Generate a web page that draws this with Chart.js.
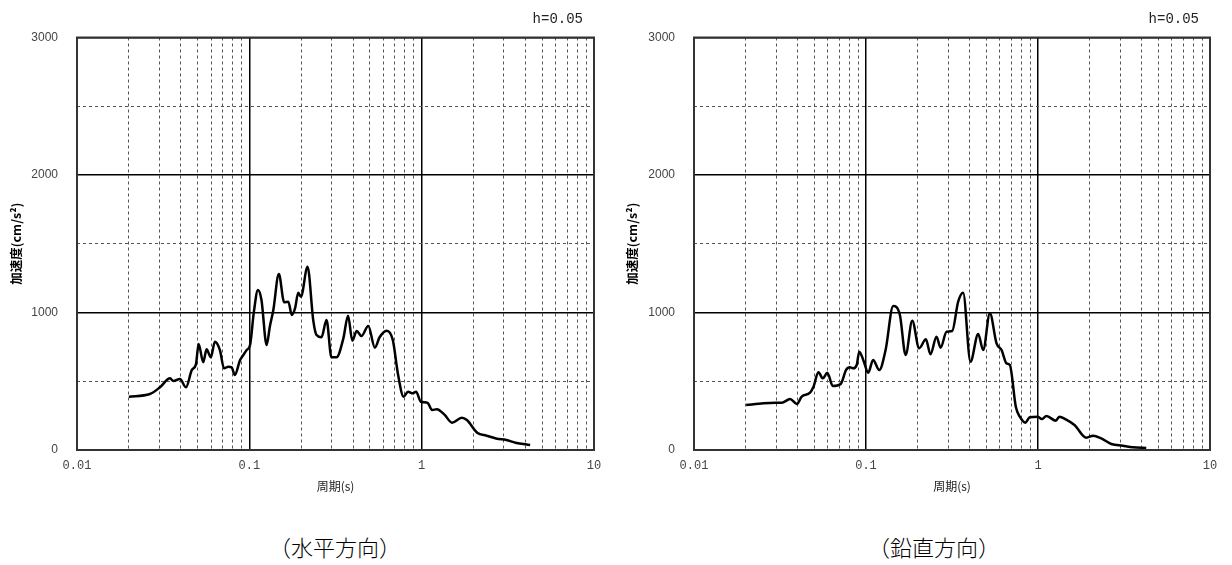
<!DOCTYPE html>
<html>
<head>
<meta charset="utf-8">
<script src="https://cdn.jsdelivr.net/npm/chart.js@4.4.1/dist/chart.umd.min.js"></script>
<style>
  html, body { margin: 0; padding: 0; background: #fff; }
  body { width: 1232px; height: 565px; position: relative; overflow: hidden; }
  canvas { position: absolute; top: 0; }
  .sub { position: absolute; top: 530px; font-family: "Noto Sans CJK JP", sans-serif; font-weight: 300; font-size: 22px; color: #000; white-space: nowrap; transform: translateX(-50%); }
</style>
</head>
<body>
<canvas id="c1" width="616" height="500" style="left:0px"></canvas>
<canvas id="c2" width="616" height="500" style="left:616px"></canvas>
<div class="sub" style="left:335px">（水平方向）</div>
<div class="sub" style="left:934px">（鉛直方向）</div>
<script>
// ---- data ----
const dampingLabel = 'h=0.05';
const xAxisTitle = '周期(s)';
const yAxisTitle = '加速度(cm/s²)';
const subTitles = ['（水平方向）', '（鉛直方向）'];

const xGridValues = [0.01,0.02,0.03,0.04,0.05,0.06,0.07,0.08,0.09,
                     0.1,0.2,0.3,0.4,0.5,0.6,0.7,0.8,0.9,
                     1,2,3,4,5,6,7,8,9,10];
const xTickLabels = {0.01: '0.01', 0.1: '0.1', 1: '1', 10: '10'};
const yGridValues = [0, 500, 1000, 1500, 2000, 2500, 3000];
const yTickLabels = {0: '0', 1000: '1000', 2000: '2000', 3000: '3000'};

// 水平方向
const hPeriod = [0.02, 0.0265, 0.0303, 0.0347, 0.0362, 0.0396, 0.0429, 0.0464, 0.049, 0.0508, 0.054, 0.0565, 0.0598, 0.0631, 0.0675, 0.0713, 0.0755, 0.079, 0.0823, 0.0884, 0.0923, 0.0965, 0.101, 0.1063, 0.1122, 0.1176, 0.126, 0.1315, 0.1378, 0.1483, 0.1593, 0.1684, 0.1763, 0.1841, 0.1924, 0.1992, 0.2177, 0.2348, 0.2454, 0.2622, 0.2804, 0.2997, 0.3204, 0.3513, 0.3741, 0.3958, 0.4197, 0.4471, 0.49, 0.535, 0.57, 0.6267, 0.68, 0.7302, 0.7858, 0.8335, 0.8887, 0.9282, 0.9883, 1.08, 1.149, 1.225, 1.36, 1.5, 1.71, 1.83, 2.1, 2.38, 2.73, 3.1, 3.5, 4.26];
const hAccel  = [388, 407, 456, 521, 502, 516, 456, 582, 623, 771, 638, 732, 674, 788, 727, 594, 606, 601, 545, 655, 691, 727, 764, 1006, 1164, 1091, 764, 897, 1018, 1280, 1074, 1079, 982, 1030, 1144, 1115, 1333, 945, 836, 820, 945, 674, 674, 812, 977, 795, 865, 829, 902, 744, 820, 868, 800, 545, 388, 424, 412, 424, 351, 344, 291, 296, 255, 199, 235, 218, 126, 104, 82, 73, 53, 36];

// 鉛直方向
const vPeriod = [0.0201, 0.0254, 0.0296, 0.0324, 0.0362, 0.0396, 0.0423, 0.0473, 0.0495, 0.0529, 0.0561, 0.0596, 0.0641, 0.0713, 0.0766, 0.0807, 0.0844, 0.0883, 0.0914, 0.0964, 0.103, 0.110, 0.1194, 0.13, 0.1439, 0.1574, 0.17, 0.1857, 0.2038, 0.2229, 0.237, 0.257, 0.2714, 0.294, 0.317, 0.3435, 0.367, 0.405, 0.449, 0.48, 0.525, 0.574, 0.614, 0.656, 0.686, 0.743, 0.784, 0.845, 0.895, 1.0, 1.05, 1.12, 1.27, 1.33, 1.45, 1.63, 1.91, 2.09, 2.33, 2.67, 3.11, 3.56, 4.26];
const vAccel  = [327, 340, 344, 344, 371, 335, 388, 417, 460, 565, 521, 562, 465, 480, 582, 601, 594, 618, 715, 655, 562, 655, 582, 727, 1047, 982, 691, 940, 740, 805, 696, 824, 744, 860, 865, 1079, 1144, 642, 844, 727, 994, 776, 727, 630, 618, 315, 242, 199, 238, 242, 225, 247, 213, 242, 223, 182, 89, 104, 85, 44, 31, 20, 15];

// ---- chart building ----
function isMajorX(v) { const l = Math.log10(v); return Math.abs(l - Math.round(l)) < 1e-6; }
function isMajorY(v) { return Math.abs(v % 1000) < 1e-6; }
function labelOf(map, v) {
  for (const k in map) { if (Math.abs(parseFloat(k) - v) < 1e-9 * Math.max(1, v)) return map[k]; }
  return '';
}

const framePlugin = {
  id: 'frame',
  afterDatasetsDraw(chart) {
    const {ctx, chartArea: a} = chart;
    ctx.save();
    ctx.strokeStyle = '#333';
    ctx.lineWidth = 2;
    ctx.strokeRect(a.left, a.top, a.right - a.left, a.bottom - a.top);
    ctx.restore();
  }
};
const dampingPlugin = {
  id: 'damping',
  afterDraw(chart) {
    const {ctx, chartArea: a} = chart;
    ctx.save();
    ctx.fillStyle = '#222';
    ctx.font = '14px "Liberation Mono", monospace';
    ctx.textAlign = 'right';
    ctx.textBaseline = 'middle';
    ctx.fillText(dampingLabel, a.right - 11, 19);
    ctx.restore();
  }
};

function makeChart(id, periods, accels, leftWidth) {
  const pts = periods.map((t, i) => ({x: t, y: accels[i]}));
  return new Chart(document.getElementById(id), {
    type: 'line',
    data: { datasets: [{ data: pts, borderColor: '#000', borderWidth: 2.5, pointRadius: 0,
                         cubicInterpolationMode: 'monotone', fill: false }] },
    options: {
      responsive: false,
      animation: false,
      events: [],
      layout: { padding: { top: 37.5, right: 22, left: 0, bottom: 0 } },
      plugins: { legend: { display: false }, tooltip: { enabled: false } },
      scales: {
        x: {
          type: 'logarithmic', min: 0.01, max: 10,
          afterBuildTicks(s) { s.ticks = xGridValues.map(v => ({value: v, major: isMajorX(v)})); },
          afterFit(s) { s.height = 50; },
          ticks: {
            autoSkip: false, maxRotation: 0, minRotation: 0, padding: 9,
            color: '#444', font: { family: '"Liberation Mono", monospace', size: 12 },
            callback: (v) => labelOf(xTickLabels, v)
          },
          grid: {
            drawTicks: false,
            color: (c) => isMajorX(c.tick.value) ? '#000' : '#555',
            lineWidth: (c) => isMajorX(c.tick.value) ? 1.5 : 1
          },
          border: { display: false, dash: (c) => (c.tick && isMajorX(c.tick.value)) ? [] : [3, 3] },
          title: { display: true, text: xAxisTitle, color: '#222', padding: {top: 0, bottom: 6},
                   font: { family: '"Noto Sans CJK JP", sans-serif', size: 12 } }
        },
        y: {
          type: 'linear', min: 0, max: 3000,
          afterBuildTicks(s) { s.ticks = yGridValues.map(v => ({value: v, major: isMajorY(v)})); },
          afterFit(s) { s.width = leftWidth; },
          ticks: {
            autoSkip: false, padding: 19,
            color: '#444', font: { family: '"Liberation Sans", sans-serif', size: 12 },
            callback: (v) => labelOf(yTickLabels, v)
          },
          grid: {
            drawTicks: false,
            color: (c) => isMajorY(c.tick.value) ? '#000' : '#555',
            lineWidth: (c) => isMajorY(c.tick.value) ? 1.5 : 1
          },
          border: { display: false, dash: (c) => (c.tick && isMajorY(c.tick.value)) ? [] : [3, 3] },
          title: { display: true, text: yAxisTitle, color: '#000', padding: {top: 9, bottom: 0},
                   font: { family: '"Noto Sans CJK JP", sans-serif', size: 12.5, weight: 'bold' } }
        }
      }
    },
    plugins: [framePlugin, dampingPlugin]
  });
}

makeChart('c1', hPeriod, hAccel, 77);
makeChart('c2', vPeriod, vAccel, 78);
</script>
</body>
</html>
